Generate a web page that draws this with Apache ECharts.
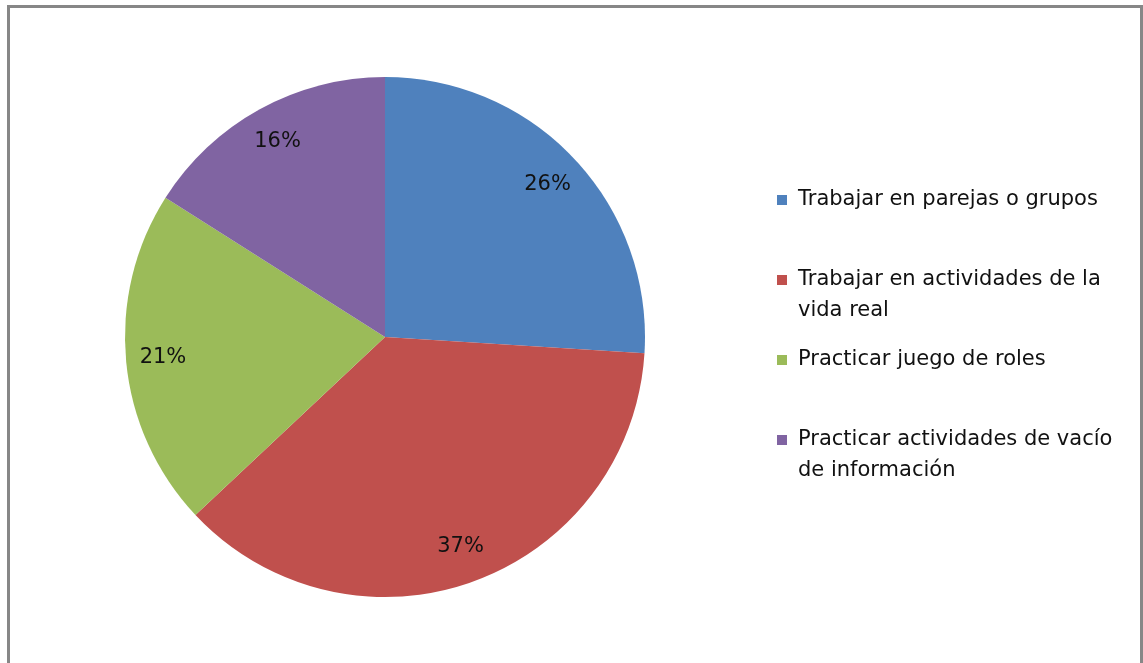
<!DOCTYPE html>
<html>
<head>
<meta charset="utf-8">
<script src="https://cdn.jsdelivr.net/npm/echarts@6/dist/echarts.min.js"></script>
<style>
  html, body { margin: 0; padding: 0; background: #fff; }
  #chart { width: 1143px; height: 663px; }
</style>
</head>
<body>
<div id="chart"></div>
<script>
// Activity preferences (share of responses, %)
const categories = [
  'Trabajar en parejas o grupos',
  'Trabajar en actividades de la vida real',
  'Practicar juego de roles',
  'Practicar actividades de vacío de información'
];
const shares = [26, 37, 21, 16];
const colors = ['#4F81BD', '#C0504D', '#9BBB59', '#8064A2'];

const FONT = '"DejaVu Sans"';
const LINE = 31;
const chart = echarts.init(document.getElementById('chart'));

// Greedy word wrap for legend names
function wrapWords(text, maxChars) {
  const lines = [];
  let cur = '';
  text.split(' ').forEach(w => {
    const next = cur ? cur + ' ' + w : w;
    if (next.length > maxChars && cur) { lines.push(cur); cur = w; }
    else cur = next;
  });
  if (cur) lines.push(cur);
  return lines;
}

// The legend centres its marker on the text block; a blank leading line
// for wrapped names keeps the marker beside the first line.
function legendLabel(name) {
  const lines = wrapWords(name, 30);
  return lines.length > 1 ? '\n' + lines.join('\n') : lines[0];
}

const sliceData = categories.map((name, i) => ({
  name,
  value: shares[i],
  itemStyle: { color: colors[i] }
}));

chart.setOption({
  animation: false,
  graphic: [{
    type: 'rect',
    shape: { x: 8.5, y: 6.5, width: 1133, height: 700 },
    style: { fill: 'none', stroke: '#878787', lineWidth: 3 },
    silent: true
  }],
  legend: {
    orient: 'vertical',
    left: 777,
    top: 184.5,
    padding: 0,
    itemWidth: 10,
    itemHeight: 10,
    itemGap: 18,
    icon: 'rect',
    formatter: legendLabel,
    textStyle: {
      fontFamily: FONT,
      fontSize: 21,
      color: '#111',
      lineHeight: LINE,
      padding: [0, 0, 0, 6]
    },
    data: categories
  },
  series: [
    {
      type: 'pie',
      center: [385, 337],
      radius: [0, 260],
      startAngle: 90,
      clockwise: true,
      data: sliceData,
      label: { show: false },
      labelLine: { show: false },
      itemStyle: { borderWidth: 0 },
      emphasis: { disabled: true }
    },
    {
      // transparent ring carrying the percentage labels near the rim
      type: 'pie',
      center: [385, 337],
      radius: [210, 230],
      startAngle: 90,
      clockwise: true,
      silent: true,
      data: categories.map((name, i) => ({ name, value: shares[i] })),
      itemStyle: { color: 'rgba(0,0,0,0)' },
      label: {
        show: true,
        position: 'inside',
        formatter: p => p.value + '%',
        fontFamily: FONT,
        fontSize: 21,
        color: '#111'
      },
      labelLine: { show: false },
      emphasis: { disabled: true }
    }
  ]
});
</script>
</body>
</html>
